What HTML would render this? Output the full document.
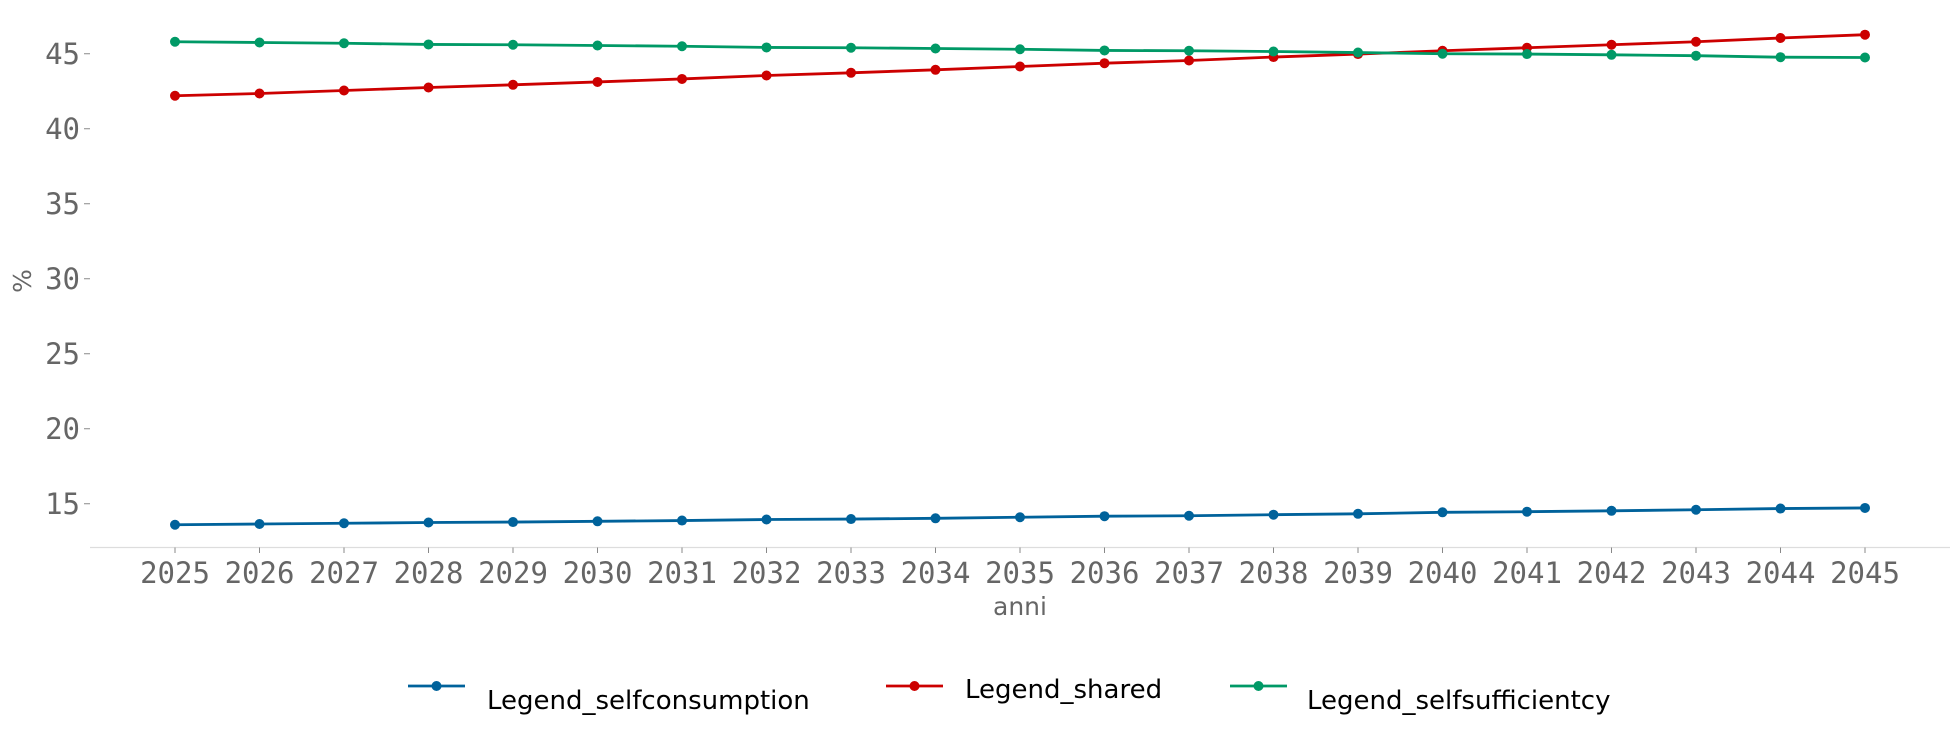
<!DOCTYPE html>
<html><head><meta charset="utf-8"><style>
html,body{margin:0;padding:0;background:#fff;}
svg{display:block;}
</style></head><body>
<svg id="chart" width="1960" height="738" xmlns="http://www.w3.org/2000/svg">
<g id="axes"></g><g id="series"></g><g id="legend"></g>
</svg>
<script>
const years = [2025,2026,2027,2028,2029,2030,2031,2032,2033,2034,2035,2036,2037,2038,2039,2040,2041,2042,2043,2044,2045];
const selfconsumption = [13.6,13.65,13.7,13.75,13.78,13.83,13.88,13.95,13.98,14.03,14.1,14.17,14.2,14.27,14.33,14.43,14.47,14.53,14.6,14.68,14.72];
const shared = [42.2,42.35,42.55,42.75,42.93,43.12,43.32,43.55,43.73,43.93,44.15,44.37,44.55,44.78,44.98,45.2,45.4,45.6,45.8,46.05,46.27];
const selfsufficiency = [45.8,45.75,45.7,45.62,45.6,45.55,45.5,45.42,45.4,45.35,45.3,45.22,45.2,45.15,45.08,45.0,44.98,44.93,44.87,44.77,44.75];
const yTicks = [15,20,25,30,35,40,45];
const legendLabels = ["Legend_selfconsumption","Legend_shared","Legend_selfsufficientcy"];

const NS="http://www.w3.org/2000/svg";
const x = v => 175 + (v-2025)*(1865-175)/20;
const y = v => 503.75 - (v-15)*15;
function mk(tag, attrs, parent){const e=document.createElementNS(NS,tag);for(const k in attrs)e.setAttribute(k,attrs[k]);parent.appendChild(e);return e;}
const axes=document.getElementById('axes'), ser=document.getElementById('series'), leg=document.getElementById('legend');

let xl=mk('line',{x1:90,x2:1950,y1:547.5,y2:547.5,stroke:'#dddddd','stroke-width':1.2},axes);


years.forEach(yr=>{
  let t=mk('line',{x1:x(yr),x2:x(yr),y1:547.5,y2:553,stroke:'#888','stroke-width':1},axes);
  
  
  let l=mk('text',{x:x(yr),y:583,'text-anchor':'middle','font-family':'DejaVu Sans Mono, Liberation Mono, monospace','font-size':29,fill:'#666'},axes);
  l.textContent=yr;
  
  
});
yTicks.forEach(v=>{
  let t=mk('line',{x1:84,x2:90,y1:y(v),y2:y(v),stroke:'#888','stroke-width':1},axes);
  
  
  let l=mk('text',{x:80,y:y(v)+10,'text-anchor':'end','font-family':'DejaVu Sans Mono, Liberation Mono, monospace','font-size':29,fill:'#666'},axes);
  l.textContent=v;
  
  
});
let xt=mk('text',{x:1020,y:615,'text-anchor':'middle','font-family':'DejaVu Sans, Liberation Sans, sans-serif','font-size':25,fill:'#666'},axes);
xt.textContent='anni';


let yt=mk('text',{x:0,y:0,transform:'translate(31,281) rotate(-90)','text-anchor':'middle','font-family':'DejaVu Sans, Liberation Sans, sans-serif','font-size':25,fill:'#666'},axes);
yt.textContent='%';



const seriesList=[selfconsumption,shared,selfsufficiency];
const colors=['#00629b','#cc0000','#009966'];
const names=['series-selfconsumption','series-shared','series-selfsufficiency'];
seriesList.forEach((arr,i)=>{
  const g=mk('g',{},ser);
  
  
  const pts=arr.map((v,j)=>x(years[j])+','+y(v)).join(' ');
  const pl=mk('polyline',{points:pts,fill:'none',stroke:colors[i],'stroke-width':2.8},g);
  
  
  arr.forEach((v,j)=>{
    const c=mk('circle',{cx:x(years[j]),cy:y(v),r:5,fill:colors[i]},g);
    
    
  });
});

const legPos=[[408,487,700],[886,965,689],[1230,1307,700]];
legendLabels.forEach((lab,i)=>{
  const g=mk('g',{},leg);
  
  
  const [lx,tx,ty]=legPos[i];
  const ly=686;
  mk('line',{x1:lx,x2:lx+57,y1:ly,y2:ly,stroke:colors[i],'stroke-width':2.8},g);
  mk('circle',{cx:lx+28.5,cy:ly,r:5,fill:colors[i]},g);
  const t=mk('text',{x:tx,y:ty+9,'font-family':'DejaVu Sans, Liberation Sans, sans-serif','font-size':26,fill:'#000'},g);
  t.textContent=lab;
});
</script>
</body></html>
